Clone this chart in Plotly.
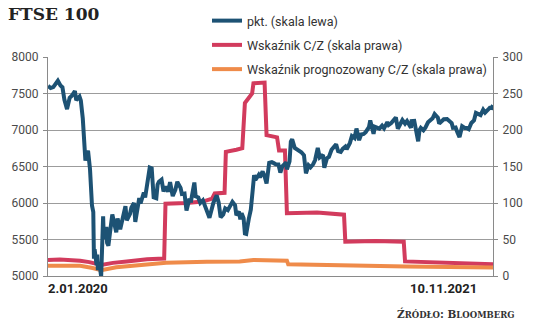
import plotly.graph_objects as go

# ---------------- data ----------------
pkt_dates = [
    "2020-01-02","2020-01-06","2020-01-10","2020-01-17","2020-01-21","2020-01-24","2020-01-27","2020-01-31",
    "2020-02-04","2020-02-07","2020-02-12","2020-02-14","2020-02-19","2020-02-21","2020-02-24","2020-02-26",
    "2020-02-28","2020-03-03","2020-03-06","2020-03-09","2020-03-11","2020-03-12","2020-03-13","2020-03-16",
    "2020-03-17","2020-03-18","2020-03-20","2020-03-23","2020-03-24","2020-03-26","2020-03-27","2020-03-31",
    "2020-04-01","2020-04-03","2020-04-07","2020-04-09","2020-04-15","2020-04-17","2020-04-21","2020-04-24",
    "2020-04-29","2020-05-01","2020-05-06","2020-05-08","2020-05-12","2020-05-14","2020-05-15","2020-05-20",
    "2020-05-22","2020-05-27","2020-05-29","2020-06-03","2020-06-05","2020-06-08","2020-06-11","2020-06-15",
    "2020-06-17","2020-06-19","2020-06-23","2020-06-26","2020-06-29","2020-07-03","2020-07-06","2020-07-10",
    "2020-07-14","2020-07-17","2020-07-22","2020-07-24","2020-07-28","2020-07-31","2020-08-04","2020-08-07",
    "2020-08-12","2020-08-14","2020-08-18","2020-08-21","2020-08-25","2020-08-28","2020-09-01","2020-09-04",
    "2020-09-10","2020-09-15","2020-09-18","2020-09-21","2020-09-25","2020-09-28","2020-10-02","2020-10-09",
    "2020-10-13","2020-10-15","2020-10-19","2020-10-21","2020-10-23","2020-10-26","2020-10-28","2020-10-30",
    "2020-11-03","2020-11-06","2020-11-09","2020-11-11","2020-11-13","2020-11-18","2020-11-20","2020-11-24",
    "2020-11-27","2020-11-30","2020-12-04","2020-12-08","2020-12-11","2020-12-14","2020-12-18","2020-12-21",
    "2020-12-24","2020-12-30","2020-12-31","2021-01-04","2021-01-06","2021-01-08","2021-01-12","2021-01-15",
    "2021-01-19","2021-01-22","2021-01-26","2021-01-29","2021-02-02","2021-02-05","2021-02-09","2021-02-12",
    "2021-02-16","2021-02-19","2021-02-24","2021-02-26","2021-03-02","2021-03-05","2021-03-09","2021-03-12",
    "2021-03-16","2021-03-19","2021-03-23","2021-03-26","2021-03-30","2021-04-01","2021-04-06","2021-04-09",
    "2021-04-13","2021-04-16","2021-04-20","2021-04-23","2021-04-27","2021-04-30","2021-05-05","2021-05-07",
    "2021-05-12","2021-05-14","2021-05-18","2021-05-21","2021-05-25","2021-05-28","2021-06-02","2021-06-04",
    "2021-06-08","2021-06-11","2021-06-15","2021-06-18","2021-06-22","2021-06-25","2021-06-29","2021-07-02",
    "2021-07-08","2021-07-09","2021-07-13","2021-07-16","2021-07-19","2021-07-21","2021-07-23","2021-07-27",
    "2021-07-30","2021-08-03","2021-08-06","2021-08-10","2021-08-13","2021-08-18","2021-08-20","2021-08-24",
    "2021-08-27","2021-09-01","2021-09-03","2021-09-08","2021-09-10","2021-09-14","2021-09-17","2021-09-20",
    "2021-09-24","2021-09-28","2021-10-01","2021-10-04","2021-10-08","2021-10-12","2021-10-15","2021-10-19",
    "2021-10-22","2021-10-26","2021-10-29","2021-11-02","2021-11-05","2021-11-08","2021-11-10",
]
pkt_values = [
    7604,7575,7588,7675,7611,7586,7412,7286,
    7440,7466,7534,7409,7457,7404,7157,6927,
    6581,6718,6462,5966,5876,5237,5366,5151,
    5294,5080,5191,4994,5446,5816,5510,5672,
    5454,5416,5704,5843,5597,5787,5641,5752,
    5958,5763,5853,5936,6001,5741,5800,6067,
    5993,6144,6076,6382,6484,6473,6077,6064,
    6253,6292,6320,6159,6225,6157,6286,6095,
    6179,6290,6207,6123,6129,5898,6037,6032,
    6280,6090,6076,6001,6037,5964,5862,5799,
    6003,6105,6007,5804,5842,5927,5902,6016,
    5969,5832,5884,5776,5860,5792,5583,5577,
    5786,5910,6186,6382,6316,6385,6351,6433,
    6367,6266,6550,6559,6546,6531,6529,6416,
    6502,6555,6461,6571,6841,6873,6754,6736,
    6712,6695,6654,6407,6517,6489,6532,6589,
    6756,6624,6659,6483,6614,6631,6730,6761,
    6803,6709,6699,6741,6772,6737,6823,6916,
    6890,7020,6860,6938,6945,6970,7039,7130,
    6948,7044,7034,7018,7059,7023,7108,7069,
    7095,7134,7172,7017,7090,7136,7088,7123,
    7030,7122,7125,7008,6844,6998,7028,6996,
    7032,7105,7123,7161,7218,7169,7087,7125,
    7148,7150,7138,7096,7029,7034,6963,6903,
    7051,7028,7027,7011,7096,7130,7234,7217,
    7205,7277,7237,7274,7304,7300,7340,
]

cz_dates = [
    "2020-01-02","2020-01-20","2020-02-20","2020-03-05","2020-03-23","2020-04-10","2020-05-01","2020-06-01",
    "2020-06-27","2020-06-29","2020-07-31","2020-08-25","2020-09-08","2020-09-12","2020-09-27","2020-09-29",
    "2020-10-15","2020-10-24","2020-10-28","2020-11-05","2020-11-08","2020-11-10","2020-11-27","2020-11-30",
    "2020-12-16","2020-12-19","2020-12-28","2020-12-31","2021-02-15","2021-03-28","2021-03-30","2021-05-15",
    "2021-06-27","2021-06-29","2021-09-01","2021-11-10",
]
cz_values = [
    22,22.5,21,19,15,18,20,23,
    24,99,100,102,106,113,114,170,
    173,175,237,248,250,264,265,193,
    190,172,172,86,87,84,47,48,
    47,20,18,16,
]

fcz_dates = [
    "2020-01-02","2020-02-20","2020-03-10","2020-03-23","2020-04-15","2020-05-15","2020-06-30","2020-08-31",
    "2020-10-20","2020-11-10","2020-12-31","2021-01-02","2021-04-01","2021-07-01","2021-11-10",
]
fcz_values = [
    14,14,11,8,12,14,18,19.5,
    20,22,21,16,14,13,11.5,
]

series_names = ["pkt. (skala lewa)", "Wskaźnik C/Z (skala prawa)", "Wskaźnik prognozowany C/Z (skala prawa)"]
left_ticks = [5000, 5500, 6000, 6500, 7000, 7500, 8000]
right_ticks = [0, 50, 100, 150, 200, 250, 300]
date_labels = ["2.01.2020", "10.11.2021"]
title_text = "FTSE 100"
source_caps = ["Ź", "RÓDŁO", ": ", "B", "LOOMBERG"]

# ---------------- styling ----------------
BLUE = "#1d5274"
RED = "#d23b5d"
ORANGE = "#ef8b4a"
GRID = "#9c9c9c"
AXIS = "#8a8a8a"
SANS = "Roboto, Liberation Sans, sans-serif"
TICKFONT = dict(family=SANS, size=12, color="#4a4a4a")

fig = go.Figure()
fig.add_trace(go.Scatter(x=pkt_dates, y=pkt_values, name=series_names[0], yaxis="y2",
                         mode="lines", line=dict(color=BLUE, width=4), legendgroup="a"))
fig.add_trace(go.Scatter(x=cz_dates, y=cz_values, name=series_names[1], yaxis="y",
                         mode="lines", line=dict(color=RED, width=4), legendgroup="b"))
fig.add_trace(go.Scatter(x=fcz_dates, y=fcz_values, name=series_names[2], yaxis="y",
                         mode="lines", line=dict(color=ORANGE, width=4), legendgroup="c"))

source_html = (
    "<b>" + source_caps[0] + "<span style='font-size:8.5px'>" + source_caps[1] + "</span>"
    + source_caps[2] + source_caps[3] + "<span style='font-size:8.5px'>" + source_caps[4] + "</span></b>"
)

# legend horizontal extent (paper fraction) – the legend's white box hides the top gridline there
LEG_X0 = (207 - 48) / 445
LEG_X1 = (490 - 48) / 445

fig.update_layout(
    width=536, height=323,
    margin=dict(l=48, r=43, t=57, b=47, autoexpand=False),
    paper_bgcolor="white", plot_bgcolor="white",
    showlegend=True,
    legend=dict(x=LEG_X0, xanchor="left",
                y=1 + (57 - 6) / 219, yanchor="top",
                bgcolor="rgba(0,0,0,0)", borderwidth=0, itemwidth=30, tracegroupgap=5,
                font=dict(family=SANS, size=12.5, color="#333333")),
    title=dict(text="<b>" + title_text + "</b>", x=8/536, xanchor="left", xref="container",
               y=1 - 14/323, yanchor="middle",
               font=dict(family="DejaVu Serif, serif", size=17, color="#222222")),
    xaxis=dict(type="date", range=[pkt_dates[0], pkt_dates[-1]], showgrid=False, showticklabels=False,
               ticks="", showline=True, linecolor=AXIS, linewidth=1.3, zeroline=False, fixedrange=True),
    yaxis=dict(side="right", range=[right_ticks[0], right_ticks[-1]], tickvals=right_ticks,
               showgrid=True, gridcolor=GRID, gridwidth=1.2, showline=True, linecolor=AXIS, linewidth=1.3,
               ticks="outside", ticklen=4, tickcolor=AXIS, tickfont=TICKFONT, zeroline=False, ticklabelstandoff=2),
    yaxis2=dict(overlaying="y", side="left", range=[left_ticks[0], left_ticks[-1]], tickvals=left_ticks,
                showgrid=False, showline=True, linecolor=AXIS, linewidth=1.3,
                ticks="outside", ticklen=4, tickcolor=AXIS, tickfont=TICKFONT, zeroline=False, ticklabelstandoff=2),
    shapes=[
        dict(type="rect", xref="paper", yref="paper", x0=LEG_X0, x1=LEG_X1,
             y0=1 - 2 / 219, y1=1 + 2 / 219, fillcolor="white", line=dict(width=0), layer="above"),
    ],
    annotations=[
        dict(text="<b>" + date_labels[0] + "</b>", x=pkt_dates[0], xref="x", xanchor="left", xshift=-2,
             y=-0.055, yref="paper", yanchor="middle", showarrow=False,
             font=dict(family=SANS, size=13, color="#222222")),
        dict(text="<b>" + date_labels[1] + "</b>", x=pkt_dates[-1], xref="x", xanchor="right", xshift=-14,
             y=-0.055, yref="paper", yanchor="middle", showarrow=False,
             font=dict(family=SANS, size=13, color="#222222")),
        dict(text=source_html, x=(517 - 48) / 445, xref="paper", xanchor="right",
             y=-(313 - 276) / 219, yref="paper", yanchor="middle", showarrow=False,
             font=dict(family="DejaVu Serif, serif", size=10.5, color="#333333")),
    ],
)

fig.write_html("out.html", config={"displayModeBar": False})
